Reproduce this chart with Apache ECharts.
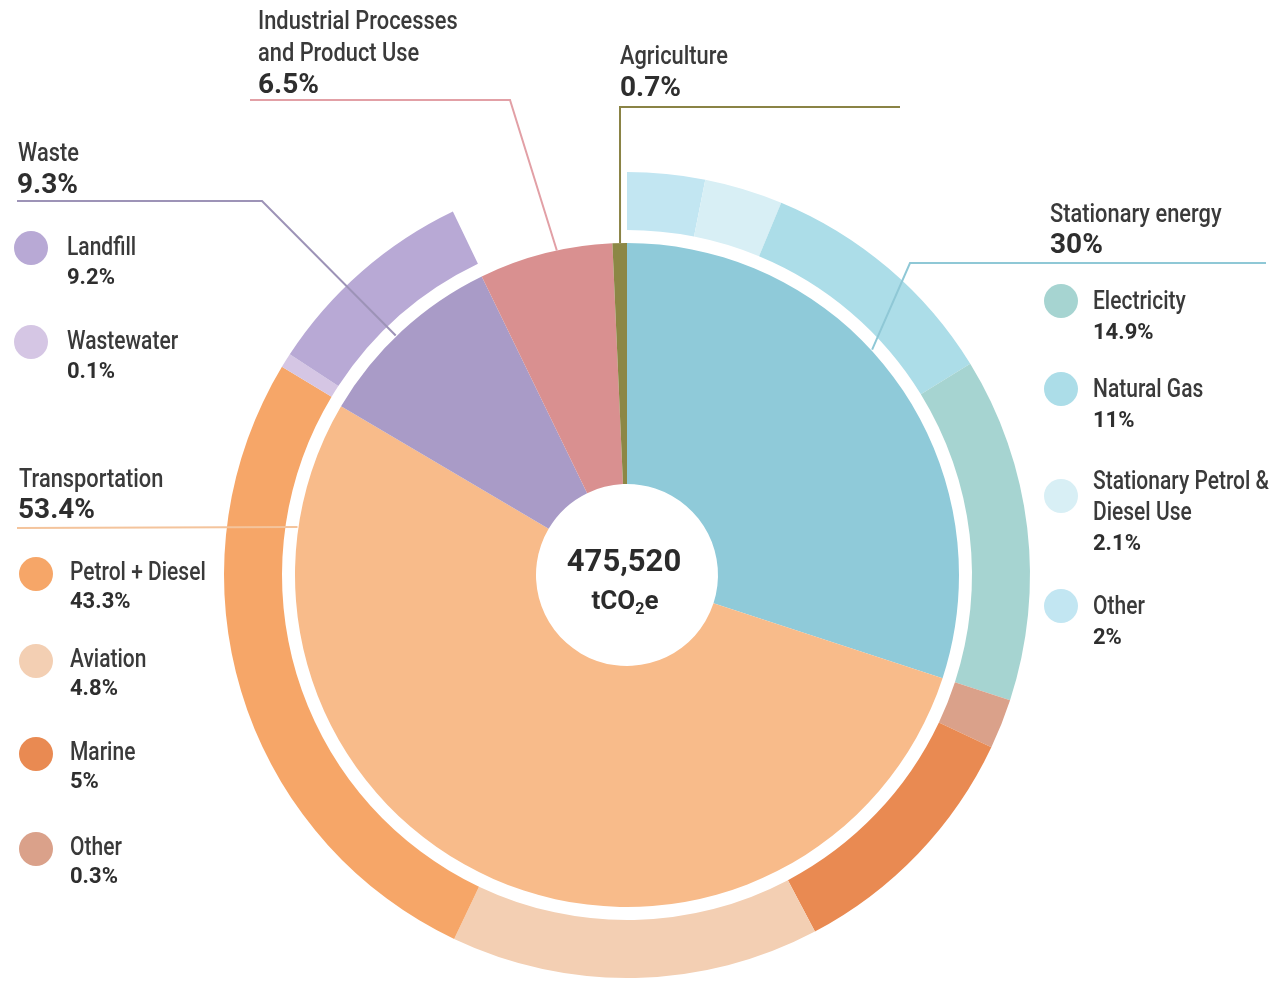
<!DOCTYPE html>
<html>
<head>
<meta charset="utf-8">
<title>Emissions by sector</title>
<script src="https://cdn.jsdelivr.net/npm/echarts@6/dist/echarts.min.js"></script>
<style>
  html, body { margin: 0; padding: 0; background: #fff; }
  #chart { width: 1281px; height: 983px; }
</style>
</head>
<body>
<div id="chart"></div>
<script>
// inner pie: sectors, clockwise from 12 o'clock
const sectorNames = ["Stationary energy", "Transportation", "Waste", "Industrial Processes and Product Use", "Agriculture"];
const sectorShares = [30, 53.4, 9.3, 6.5, 0.7];

// outer ring: subsectors, clockwise; arc widths in degrees as drawn in the ring (last one is the empty gap)
const ringNames = ["Other", "Stationary Petrol & Diesel Use", "Natural Gas", "Electricity", "Other", "Marine", "Aviation", "Petrol + Diesel", "Wastewater", "Landfill", ""];
const ringArcs = [11.2, 11.3, 35.9, 49.7, 7.2, 36.9, 53.2, 95.7, 2.1, 31.2, 25.6];

// legend lists
const stationaryNames = ["Electricity", "Natural Gas", "Stationary Petrol &|Diesel Use", "Other"];
const stationaryShares = ["14.9%", "11%", "2.1%", "2%"];
const transportNames = ["Petrol + Diesel", "Aviation", "Marine", "Other"];
const transportShares = ["43.3%", "4.8%", "5%", "0.3%"];
const wasteNames = ["Landfill", "Wastewater"];
const wasteShares = ["9.2%", "0.1%"];
const totalEmissions = "475,520";

// colours
const sectorColors = ["#8fcad9", "#f8bb8a", "#a99bc7", "#d99090", "#8c8745"];
const ringColors = ["#c2e6f2", "#d8eff5", "#acdde8", "#a6d4d1", "#daa18a", "#e98a52", "#f3cfb3", "#f6a668", "#d5c6e4", "#b8a9d5", "rgba(0,0,0,0)"];
const stationaryDots = ["#a6d4d1", "#acdde8", "#d8eff5", "#c2e6f2"];
const transportDots = ["#f6a668", "#f3cfb3", "#e98a52", "#daa18a"];
const wasteDots = ["#b8a9d5", "#d5c6e4"];

const FONT = "Roboto,'DejaVu Sans',sans-serif";
const cx = 627, cy = 575, rPie = 332;
const dy = 2.5; // text nudge

function polar(deg, r) {
  const a = deg * Math.PI / 180;
  return [cx + r * Math.sin(a), cy - r * Math.cos(a)];
}

// regular labels are condensed horizontally, bold numbers are not
function txt(x, y, text, size, bold) {
  return {
    type: "text", x: x, y: y + dy, z: 100,
    scaleX: bold ? 1 : 0.84,
    style: {
      text: text, fill: bold ? "#2e2e2e" : "#3a3a3a",
      font: (bold ? "bold " : "500 ") + size + "px " + FONT,
      align: "left", verticalAlign: "middle"
    }
  };
}

function dot(x, y, color) {
  return { type: "circle", z: 100, shape: { cx: x, cy: y, r: 17 }, style: { fill: color } };
}

function leader(points, color) {
  return {
    type: "polyline", z: 90,
    shape: { points: points },
    style: { stroke: color, lineWidth: 2, fill: null }
  };
}

const graphics = [];

// section titles
graphics.push(txt(18, 152, "Waste", 26), txt(17, 183, sectorShares[2] + "%", 28, true));
graphics.push(txt(19, 478, "Transportation", 26), txt(18, 508, sectorShares[1] + "%", 28, true));
graphics.push(txt(1050, 213, "Stationary energy", 26), txt(1050, 243, sectorShares[0] + "%", 28, true));
graphics.push(txt(258, 20, "Industrial Processes", 26), txt(258, 52, "and Product Use", 26), txt(258, 83, sectorShares[3] + "%", 28, true));
graphics.push(txt(620, 55, "Agriculture", 26), txt(620, 86, sectorShares[4] + "%", 28, true));

// leader lines
graphics.push(leader([[17, 201], [262, 201], polar(316, 333)], "#9d93b7"));
graphics.push(leader([[17, 528], polar(278.3, 333)], "#f4c49c"));
graphics.push(leader([[1266, 263], [910, 263], polar(47.4, 333)], "#8fc8d6"));
graphics.push(leader([[250, 100], [510, 100], polar(347.8, 332)], "#e2a0a6"));
graphics.push(leader([[900, 107], [620, 107], polar(358.8, 332)], "#8a8345"));

// waste legend
const wasteY = [248, 342];
wasteNames.forEach(function (n, i) {
  graphics.push(dot(31, wasteY[i], wasteDots[i]));
  graphics.push(txt(67, wasteY[i] - 2, n, 25), txt(67, wasteY[i] + 28, wasteShares[i], 22, true));
});

// transport legend
const transportY = [574, 661, 754, 849];
transportNames.forEach(function (n, i) {
  graphics.push(dot(36, transportY[i], transportDots[i]));
  graphics.push(txt(70, transportY[i] - 3, n, 25), txt(70, transportY[i] + 26, transportShares[i], 22, true));
});

// stationary legend
const stationaryY = [301, 389, 496, 606];
stationaryNames.forEach(function (n, i) {
  graphics.push(dot(1061, stationaryY[i], stationaryDots[i]));
  const lines = n.split("|");
  let y = stationaryY[i] - 1 - (lines.length - 1) * 15;
  lines.forEach(function (l) {
    graphics.push(txt(1093, y, l, 25));
    y += 31;
  });
  graphics.push(txt(1093, y, stationaryShares[i], 22, true));
});

// centre total
graphics.push({
  type: "text", x: cx - 3, y: 561 + dy, z: 100,
  style: { text: totalEmissions, fill: "#2b2b2b", font: "bold 31px " + FONT, align: "center", verticalAlign: "middle" }
});
graphics.push({
  type: "text", x: cx - 2, y: 600 + dy, z: 100,
  style: {
    text: "{a|tCO}{s|2}{a|e}", align: "center", verticalAlign: "middle",
    rich: {
      a: { fontFamily: FONT, fontWeight: "bold", fontSize: 26, fill: "#2b2b2b", lineHeight: 30 },
      s: { fontFamily: FONT, fontWeight: "bold", fontSize: 16, fill: "#2b2b2b", lineHeight: 14, verticalAlign: "bottom" }
    }
  }
});

const chart = echarts.init(document.getElementById("chart"), null, { renderer: "canvas" });

chart.setOption({
  backgroundColor: "#ffffff",
  animation: false,
  series: [
    {
      name: "sectors",
      type: "pie",
      center: [cx, cy],
      radius: [91, rPie],
      startAngle: 90,
      clockwise: true,
      silent: true,
      label: { show: false },
      labelLine: { show: false },
      itemStyle: { borderWidth: 0 },
      data: sectorNames.map(function (n, i) {
        return { name: n, value: sectorShares[i], itemStyle: { color: sectorColors[i] } };
      })
    },
    {
      name: "subsectors",
      type: "pie",
      center: [cx, cy],
      radius: [345, 403],
      startAngle: 90,
      clockwise: true,
      silent: true,
      label: { show: false },
      labelLine: { show: false },
      itemStyle: { borderWidth: 0 },
      data: ringNames.map(function (n, i) {
        return { name: n || "gap", value: ringArcs[i], itemStyle: { color: ringColors[i] } };
      })
    }
  ],
  graphic: graphics
});
</script>
</body>
</html>
